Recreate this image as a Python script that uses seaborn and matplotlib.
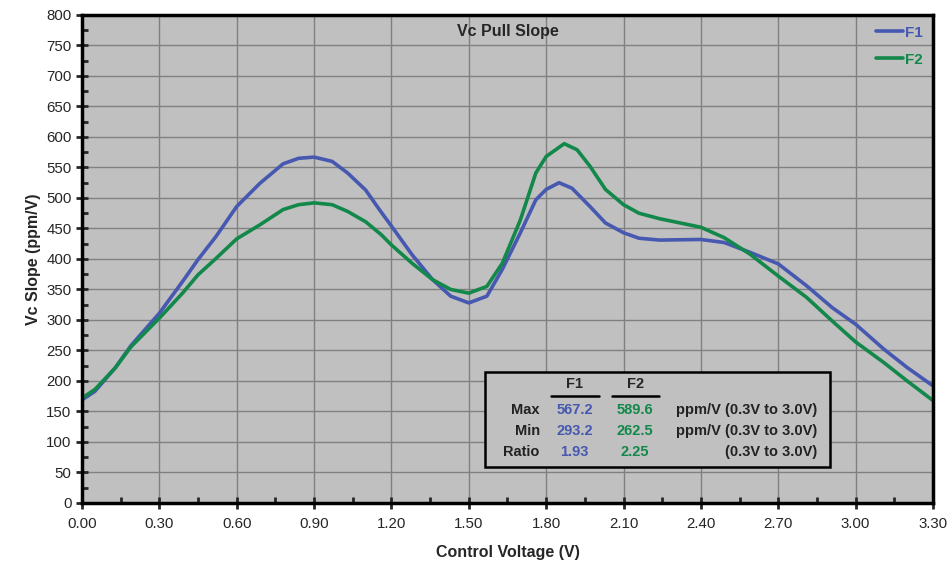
import matplotlib
matplotlib.use("Agg")
import matplotlib.pyplot as plt
import seaborn as sns
import pandas as pd
from matplotlib.ticker import MultipleLocator
from matplotlib.patches import Rectangle

# values
voltage_f1 = [0.00, 0.05, 0.13, 0.19, 0.30, 0.39, 0.45, 0.52, 0.60, 0.69, 0.78, 0.84,
              0.90, 0.97, 1.03, 1.10, 1.16, 1.20, 1.28, 1.36, 1.43, 1.50, 1.57, 1.63,
              1.70, 1.76, 1.80, 1.85, 1.90, 1.97, 2.03, 2.10, 2.16, 2.24, 2.40, 2.49,
              2.59, 2.70, 2.81, 2.91, 3.00, 3.11, 3.20, 3.30]
slope_f1 = [169, 183, 222, 258, 311, 363, 399, 437, 486, 524, 556, 565,
            567, 560, 541, 513, 477, 454, 407, 366, 339, 328, 339, 383,
            443, 497, 514, 525, 516, 486, 459, 443, 434, 431, 432, 427,
            411, 392, 356, 320, 293, 252, 222, 192]
voltage_f2 = [0.00, 0.05, 0.13, 0.19, 0.30, 0.39, 0.45, 0.52, 0.60, 0.69, 0.78, 0.84,
              0.90, 0.97, 1.03, 1.10, 1.16, 1.20, 1.28, 1.36, 1.43, 1.50, 1.57, 1.63,
              1.70, 1.76, 1.80, 1.87, 1.92, 1.97, 2.03, 2.10, 2.16, 2.24, 2.40, 2.49,
              2.59, 2.70, 2.81, 2.91, 3.00, 3.11, 3.20, 3.30]
slope_f2 = [172, 186, 222, 256, 303, 344, 374, 401, 433, 456, 481, 489,
            492, 489, 478, 461, 440, 423, 393, 366, 350, 344, 355, 393,
            464, 541, 568, 589, 579, 552, 514, 489, 475, 466, 452, 435,
            408, 372, 337, 298, 264, 230, 200, 168]

series_names = ["F1", "F2"]
series_colors = ["#4658b0", "#12884a"]
row_labels = ["Max", "Min", "Ratio"]
f1_stats = ["567.2", "293.2", "1.93"]
f2_stats = ["589.6", "262.5", "2.25"]
unit_texts = ["ppm/V (0.3V to 3.0V)", "ppm/V (0.3V to 3.0V)", "(0.3V to 3.0V)"]

df = pd.concat([
    pd.DataFrame({"v": voltage_f1, "s": slope_f1, "series": "F1"}),
    pd.DataFrame({"v": voltage_f2, "s": slope_f2, "series": "F2"}),
])

sns.set_style("white")
plt.rcParams['font.family'] = ['Liberation Sans', 'DejaVu Sans']

fig = plt.figure(figsize=(9.53, 5.63), dpi=100)
ax = fig.add_axes([0.086, 0.1066, 0.893, 0.8668])
ax.set_facecolor("#c0c0c0")

sns.lineplot(data=df, x="v", y="s", hue="series", palette=series_colors,
             hue_order=series_names, lw=2.6, ax=ax, sort=False, estimator=None)
for ln in ax.get_lines():
    ln.set_solid_joinstyle("round")
    ln.set_solid_capstyle("round")

ax.set_xlim(0, 3.3)
ax.set_ylim(0, 800)
ax.xaxis.set_major_locator(MultipleLocator(0.3))
ax.xaxis.set_minor_locator(MultipleLocator(0.15))
ax.yaxis.set_major_locator(MultipleLocator(50))
ax.yaxis.set_minor_locator(MultipleLocator(25))
ax.set_xticklabels([f"{t:.2f}" for t in ax.get_xticks()])
ax.grid(True, which="major", color="#808080", lw=1)
ax.tick_params(which="major", direction="inout", length=8, width=2, labelsize=10.8,
               bottom=True, left=True)
ax.tick_params(axis="x", which="major", pad=6)
ax.tick_params(which="minor", direction="in", length=4, width=2, bottom=True, left=True)
for sp in ax.spines.values():
    sp.set_linewidth(2.5)
    sp.set_color("black")

ax.set_xlabel("Control Voltage (V)", fontsize=11.5, fontweight="bold", labelpad=10)
ax.set_ylabel("Vc Slope (ppm/V)", fontsize=11.5, fontweight="bold")
ax.text(0.5, 0.967, "Vc Pull Slope", transform=ax.transAxes, ha="center", va="center",
        fontsize=11.5, fontweight="bold")

leg = ax.legend(loc="upper right", frameon=False, labelcolor="linecolor",
                prop={"weight": "bold", "size": 11}, handlelength=1.8,
                handletextpad=0.1, borderaxespad=0.3, labelspacing=0.85)

# stats table
ax.add_patch(Rectangle((0.4736, 0.074), 0.405, 0.194, transform=ax.transAxes,
                       facecolor="#c0c0c0", edgecolor="black", lw=1.8, zorder=5))
ax.text(0.579, 0.243, "F1", transform=ax.transAxes, ha="center", va="center",
        fontsize=10.5, fontweight="bold", zorder=6)
ax.text(0.650, 0.243, "F2", transform=ax.transAxes, ha="center", va="center",
        fontsize=10.5, fontweight="bold", zorder=6)
ax.plot([0.551, 0.608], [0.219, 0.219], transform=ax.transAxes, color="black", lw=1.8, zorder=6)
ax.plot([0.623, 0.678], [0.219, 0.219], transform=ax.transAxes, color="black", lw=1.8, zorder=6)
for i, lab in enumerate(row_labels):
    yy = 0.19 - i * 0.043
    ax.text(0.538, yy, lab, transform=ax.transAxes, ha="right", va="center",
            fontsize=10.5, fontweight="bold", color="#222222", zorder=6)
    ax.text(0.579, yy, f1_stats[i], transform=ax.transAxes, ha="center", va="center",
            fontsize=10.5, fontweight="bold", color=series_colors[0], zorder=6)
    ax.text(0.650, yy, f2_stats[i], transform=ax.transAxes, ha="center", va="center",
            fontsize=10.5, fontweight="bold", color=series_colors[1], zorder=6)
    ax.text(0.864, yy, unit_texts[i], transform=ax.transAxes, ha="right", va="center",
            fontsize=10.5, fontweight="bold", color="#222222", zorder=6)

fig.savefig("out.png", dpi=100, facecolor="white")
